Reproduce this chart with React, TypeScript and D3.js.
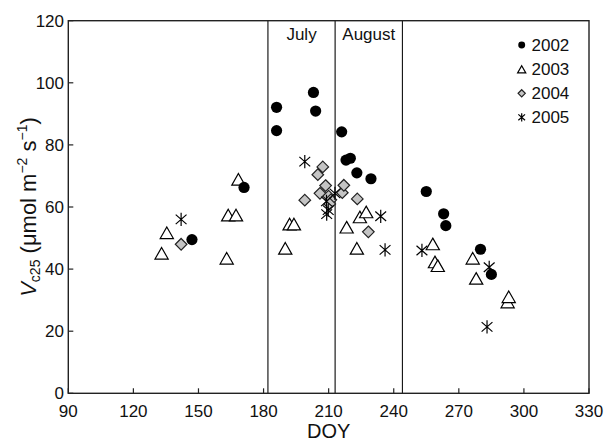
import React from "react";
import * as d3 from "d3";

const xTicks = [90, 120, 150, 180, 210, 240, 270, 300, 330];
const yTicks = [0, 20, 40, 60, 80, 100, 120];
const monthLines = [182, 213, 244];
const monthLabels = [
  { name: "July", doy: 197.5 },
  { name: "August", doy: 228.5 },
];
const seriesNames = ["2002", "2003", "2004", "2005"];

const data2002: [number, number][] = [
  [147, 49.5], [171, 66.3], [186, 92.1], [186, 84.6], [203, 96.9], [204, 90.9],
  [216, 84.2], [218, 75.1], [220, 75.7], [223, 71], [229.5, 69.1], [255, 65],
  [263, 57.8], [264, 54], [280, 46.4], [285, 38.3],
];
const data2003: [number, number][] = [
  [133, 45.1], [135.4, 51.7], [163, 43.5], [163.7, 57.4], [167.3, 57.4], [168.4, 68.9],
  [190, 46.7], [192, 54.5], [194, 54.5], [218.3, 53.5], [223, 46.7], [224.4, 56.8],
  [227.3, 58.4], [258, 48.1], [259, 42.3], [260.3, 41.1], [276.4, 43.5], [278, 37],
  [292.5, 29.4], [293, 31.1],
];
const data2004: [number, number][] = [
  [142, 48], [199, 62.2], [205, 70.4], [206, 64.4], [207.3, 72.9], [208.6, 66.9],
  [210, 63.5], [211, 62.3], [210.5, 61], [216.3, 64.6], [217, 67], [223.2, 62.6],
  [228.3, 52],
];
const data2005: [number, number][] = [
  [142, 56], [199, 74.6], [209, 61.8], [209.8, 59], [209.1, 57.7], [212.9, 64.4],
  [234, 57], [236, 46.2], [253, 46], [283, 21.4], [284, 40.6],
];

const FONT = "'Liberation Sans', Arial, sans-serif";

function Marker({ kind, x, y, s = 1 }: { kind: number; x: number; y: number; s?: number }) {
  if (kind === 0) return <circle cx={x} cy={y} r={5.6 * s} fill="#000" />;
  if (kind === 1) {
    const w = 6.6 * s, h = 5.8 * s;
    return (
      <path
        d={`M${x},${y - h}L${x + w},${y + h}L${x - w},${y + h}Z`}
        fill="#fff"
        stroke="#000"
        strokeWidth={1.2}
        strokeLinejoin="miter"
      />
    );
  }
  if (kind === 2) {
    const r = 5.8 * s;
    return (
      <path
        d={`M${x},${y - r}L${x + r},${y}L${x},${y + r}L${x - r},${y}Z`}
        fill="#c4c4c4"
        stroke="#222"
        strokeWidth={1.2}
      />
    );
  }
  const r = 6.6 * s;
  const dx = 0.82 * r, dy = 0.72 * r;
  return (
    <path
      d={`M${x},${y - r}L${x},${y + r}M${x - dx},${y - dy}L${x + dx},${y + dy}M${x - dx},${y + dy}L${x + dx},${y - dy}`}
      stroke="#000"
      strokeWidth={1.2}
      fill="none"
    />
  );
}

export default function App() {
  const x = d3.scaleLinear().domain([90, 330]).range([68.3, 589]);
  const y = d3.scaleLinear().domain([0, 120]).range([393.3, 20.7]);
  const [x0, x1] = x.range();
  const [y0, y1] = y.range();
  const series = [data2002, data2003, data2004, data2005];
  const drawOrder = [1, 2, 3, 0];
  const legendY = [45, 69.3, 93.3, 117.3];

  return (
    <div style={{ position: "absolute", left: 0, top: 0 }}>
      <svg width={606} height={441} style={{ display: "block", background: "#fff" }} fontFamily={FONT}>
        {monthLines.map((m, i) => (
          <line
            key={m}
            x1={x(m)}
            x2={x(m)}
            y1={y1}
            y2={y0}
            stroke={i < 2 ? "#555" : "#111"}
            strokeWidth={i < 2 ? 1.6 : 1.1}
          />
        ))}
        {monthLabels.map((m) => (
          <text key={m.name} x={x(m.doy)} y={40} fontSize={17} textAnchor="middle" fill="#111">
            {m.name}
          </text>
        ))}

        <rect x={x0} y={y1} width={x1 - x0} height={y0 - y1} fill="none" stroke="#222" strokeWidth={1.4} />

        {xTicks.map((t) => (
          <g key={t}>
            <line x1={x(t)} x2={x(t)} y1={y0} y2={y0 - 5} stroke="#222" strokeWidth={1.2} />
            <text x={x(t)} y={416.5} fontSize={17} textAnchor="middle" fill="#111">
              {t}
            </text>
          </g>
        ))}
        {yTicks.map((t) => (
          <g key={t}>
            <line x1={x0} x2={x0 + 5} y1={y(t)} y2={y(t)} stroke="#222" strokeWidth={1.2} />
            <text x={64} y={y(t) + 6} fontSize={17} textAnchor="end" fill="#111">
              {t}
            </text>
          </g>
        ))}

        {drawOrder.map((k) => (
          <g key={k}>
            {series[k].map((d, i) => (
              <Marker key={i} kind={k} x={x(d[0])} y={y(d[1])} />
            ))}
          </g>
        ))}

        {seriesNames.map((n, i) => (
          <g key={n}>
            <Marker kind={i} x={521.7} y={legendY[i]} s={0.62} />
            <text x={531.5} y={legendY[i] + 6} fontSize={17} fill="#111">
              {n}
            </text>
          </g>
        ))}

        <text x={(x0 + x1) / 2} y={438} fontSize={20} textAnchor="middle" fill="#111">
          DOY
        </text>
        <text transform="translate(36,207) rotate(-90)" fontSize={22} textAnchor="middle" fill="#111">
          <tspan fontStyle="italic">V</tspan>
          <tspan fontSize={14} dy={4}>c25</tspan>
          <tspan dy={-4}> (μmol m</tspan>
          <tspan fontSize={14} dy={-9}>−2</tspan>
          <tspan dy={9}> s</tspan>
          <tspan fontSize={14} dy={-9}>−1</tspan>
          <tspan dy={9}>)</tspan>
        </text>
      </svg>
    </div>
  );
}
